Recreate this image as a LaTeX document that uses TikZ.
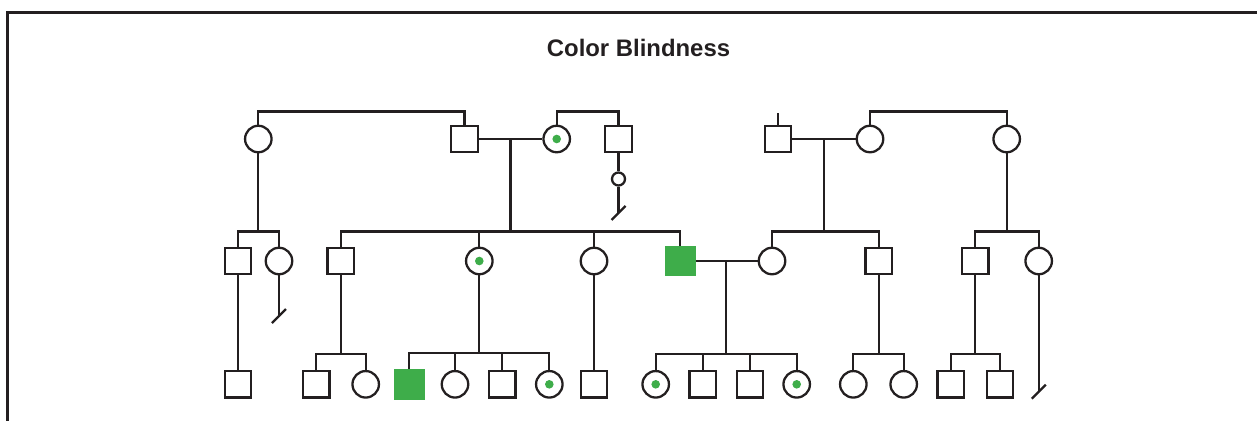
\documentclass[tikz,border=0pt]{standalone}
\usepackage{fontspec}
\setmainfont{Liberation Sans}
\usetikzlibrary{calc}
\definecolor{cbgreen}{HTML}{3EAD4A}
\definecolor{ink}{HTML}{231F20}

\begin{document}
\begin{tikzpicture}[
  x=0.02cm, y=-0.02cm,
  line width=1.3pt,
  male/.style={draw=ink,rectangle,minimum size=5.3mm,inner sep=0pt,fill=white},
  female/.style={draw=ink,circle,minimum size=5.3mm,inner sep=0pt,fill=white},
  carrier/.style={female,path picture={\fill[cbgreen] (path picture bounding box.center) circle[radius=0.86mm];}},
  affected/.style={male,fill=cbgreen,draw=cbgreen,minimum size=5.7mm},
  smallfemale/.style={female,minimum size=2.6mm},
  link/.style={draw=ink,line width=1.3pt},
  frame/.style={draw=ink,line width=1.5pt},
  title/.style={font=\bfseries\fontsize{13.6}{16}\selectfont,text=ink}
]
  \useasboundingbox (0,0) rectangle (1257,420);
  \clip (0,0) rectangle (1257,420);
  \draw[frame] (7.5,440) |- (1280,12.5);

  \node[title] (title) at (638.5,48) {Color Blindness};

  % generation I
  \node[female] (gmA) at (258.3,139) {};
  \node[male] (gfB) at (464.5,139) {};
  \node[carrier] (gmC) at (556.7,139) {};
  \node[male] (gfD) at (618.5,139) {};
  \node[smallfemale] (sD) at (618.5,179) {};
  \node[male] (gfE) at (778,139) {};
  \node[female] (gmF) at (870,139) {};
  \node[female] (gaG) at (1006.7,139) {};

  % generation II
  \node[male] (pH) at (238,261) {};
  \node[female] (pI) at (279,261) {};
  \node[male] (pJ) at (340.7,261) {};
  \node[carrier] (pK) at (479.3,261) {};
  \node[female] (pL) at (594,261) {};
  \node[affected] (pQ) at (680.3,261) {};
  \node[female] (pM) at (772,261) {};
  \node[male] (pN) at (878.7,261) {};
  \node[male] (pO) at (975.3,261) {};
  \node[female] (pP) at (1038.7,261) {};

  % generation III
  \node[male] (r1) at (238,384.3) {};
  \node[male] (r2) at (316.3,384.3) {};
  \node[female] (r3) at (365.7,384.3) {};
  \node[affected] (r4) at (409.3,384.3) {};
  \node[female] (r5) at (455,384.3) {};
  \node[male] (r6) at (502.3,384.3) {};
  \node[carrier] (r7) at (549.3,384.3) {};
  \node[male] (r8) at (594,384.3) {};
  \node[carrier] (r9) at (655.7,384.3) {};
  \node[male] (r10) at (702.7,384.3) {};
  \node[male] (r11) at (750,384.3) {};
  \node[carrier] (r12) at (796.7,384.3) {};
  \node[female] (r13) at (853.3,384.3) {};
  \node[female] (r14) at (903.7,384.3) {};
  \node[male] (r15) at (950.7,384.3) {};
  \node[male] (r16) at (1000,384.3) {};

  \coordinate (endD) at (618.5,213);
  \coordinate (endI) at (279,316);
  \coordinate (endP) at (1038.7,391.7);

  % sibling bars, generation I
  \draw[link] (gmA.north) -- ++(0,-13) -| (gfB.north);
  \draw[link] (gmC.north) -- ++(0,-13) -| (gfD.north);
  \draw[link] (gmF.north) -- ++(0,-13) -| (gaG.north);
  \draw[link] (gfE.north) -- ++(0,-12);

  % couples
  \draw[link] (gfB) -- (gmC);
  \draw[link] (gfE) -- (gmF);
  \draw[link] (pQ) -- (pM);
  \coordinate (bc) at ($(gfB)!.5!(gmC)$);
  \coordinate (ef) at ($(gfE)!.5!(gmF)$);
  \coordinate (qm) at ($(pQ)!.5!(pM)$);

  % generation II bars
  \draw[link] (pH.north) -- ++(0,-15) coordinate (barH) -| (pI.north);
  \draw[link] (gmA) -- (gmA |- barH);
  \draw[link] (pJ.north) -- ++(0,-15) coordinate (barJ) -| (pQ.north);
  \draw[link] (pK.north) -- ++(0,-15);
  \draw[link] (pL.north) -- ++(0,-15);
  \draw[link] (bc) -- (bc |- barJ);
  \draw[link] (pM.north) -- ++(0,-15) coordinate (barM) -| (pN.north);
  \draw[link] (ef) -- (ef |- barM);
  \draw[link] (pO.north) -- ++(0,-15) coordinate (barO) -| (pP.north);
  \draw[link] (gaG) -- (gaG |- barO);

  % generation III bars
  \draw[link] (pH) -- (r1);
  \draw[link] (pL) -- (r8);
  \draw[link] (r2.north) -- ++(0,-16) coordinate (barR2) -| (r3.north);
  \draw[link] (pJ) -- (pJ |- barR2);
  \draw[link] (r4.north) -- ++(0,-16) coordinate (barR4) -| (r7.north);
  \draw[link] (r5.north) -- ++(0,-16);
  \draw[link] (r6.north) -- ++(0,-16);
  \draw[link] (pK) -- (pK |- barR4);
  \draw[link] (r9.north) -- ++(0,-16) coordinate (barR9) -| (r12.north);
  \draw[link] (r10.north) -- ++(0,-16);
  \draw[link] (r11.north) -- ++(0,-16);
  \draw[link] (qm) -- (qm |- barR9);
  \draw[link] (r13.north) -- ++(0,-16) coordinate (barR13) -| (r14.north);
  \draw[link] (pN) -- (pN |- barR13);
  \draw[link] (r15.north) -- ++(0,-16) coordinate (barR15) -| (r16.north);
  \draw[link] (pO) -- (pO |- barR15);

  % no offspring
  \draw[link] (gfD) -- (sD);
  \draw[link] (sD) -- (endD);
  \draw[link] ([shift={(-7,7)}]endD) -- ([shift={(7,-7)}]endD);
  \draw[link] (pI) -- (endI);
  \draw[link] ([shift={(-7,7)}]endI) -- ([shift={(7,-7)}]endI);
  \draw[link] (pP) -- (endP);
  \draw[link] ([shift={(-7,7)}]endP) -- ([shift={(7,-7)}]endP);
\end{tikzpicture}
\end{document}
